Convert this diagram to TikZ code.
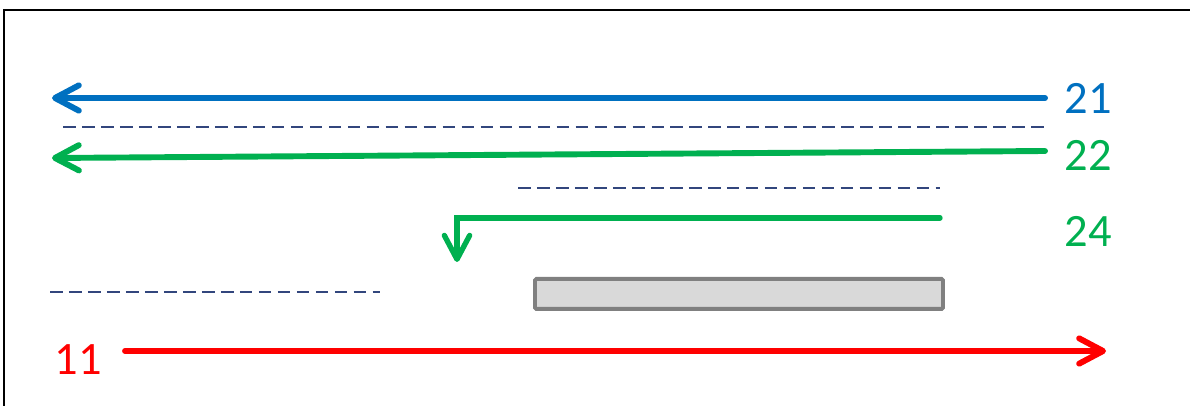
\documentclass[tikz,border=0pt]{standalone}
\usepackage{fontspec}
\setmainfont{Carlito}
\usetikzlibrary{arrows.meta,positioning}
\definecolor{leftblue}{RGB}{0,112,192}
\definecolor{leftgreen}{RGB}{0,176,80}
\definecolor{rightred}{RGB}{255,0,0}
\definecolor{lanenavy}{RGB}{50,70,125}
\definecolor{barfill}{RGB}{217,217,217}
\definecolor{bargray}{RGB}{128,128,128}

\begin{document}
\begin{tikzpicture}[
    x=0.025cm, y=-0.025cm,
    flow/.style={line width=4.2pt, line cap=round, line join=round,
        -{Straight Barb[length=17pt, width=18pt, round]}},
    lane/.style={draw=lanenavy, line width=1.9pt, dash pattern=on 9pt off 4.5pt},
    numlabel/.style={font=\fontsize{33}{40}\selectfont, inner sep=0pt},
    bar/.style={draw=bargray, fill=barfill, line width=2.8pt, rounded corners=1pt}
]
\useasboundingbox (0,0) rectangle (1190,406);

% frame (top and left edge only)
\draw[line width=1.5pt] (1190,10) -- (4,10) -- (4,406);

% lane separators
\draw[lane] (63,127) -- (1045,127);
\draw[lane] (518,188) -- (940,188);
\draw[lane] (50,292) -- (380,292);

% labels
\node[numlabel, text=leftblue] (n21) at (1088,98) {21};
\node[numlabel, text=leftgreen] (n22) at (1088,155) {22};
\node[numlabel, text=leftgreen] (n24) at (1088,231) {24};
\node[numlabel, text=rightred] (n11) at (78,360) {11};

% arrow end points
\coordinate (b21-start) at (1045,98);
\coordinate (b21-end) at (52,98);
\coordinate (g22-start) at (1045,151);
\coordinate (g22-end) at (52,158);
\coordinate (g24-start) at (940,218);
\coordinate (g24-bend) at (457,218);
\coordinate (g24-end) at (457,262);
\coordinate (r11-start) at (125,351);
\coordinate (r11-end) at (1106,351);

% arrows
\draw[flow, leftblue] (b21-start) -- (b21-end);
\draw[flow, leftgreen] (g22-start) -- (g22-end);
\draw[flow, leftgreen, line width=3.8pt, line join=miter] (g24-start) -- (g24-bend) -- (g24-end);
\draw[flow, rightred] (r11-start) -- (r11-end);

% grey block
\node[bar, minimum width=408*0.025cm, minimum height=30*0.025cm, anchor=north west, inner sep=0pt] (block) at (533,277) {};

\end{tikzpicture}
\end{document}
